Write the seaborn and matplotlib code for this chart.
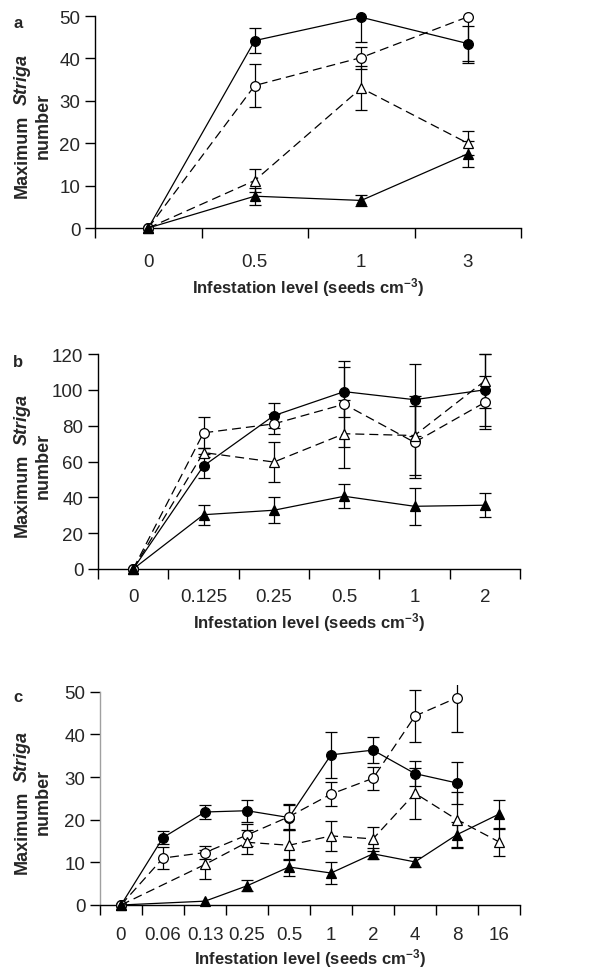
import numpy as np
import pandas as pd
import seaborn as sns
import matplotlib.pyplot as plt

sns.set_style("white")
plt.rcParams['font.family'] = ['Liberation Sans', 'DejaVu Sans']
plt.rcParams['mathtext.fontset'] = 'custom'
plt.rcParams['mathtext.rm'] = 'Liberation Sans'
plt.rcParams['mathtext.bf'] = 'Liberation Sans:bold'
plt.rcParams['mathtext.it'] = 'Liberation Sans:italic'

nan = np.nan

# ---- panel a ----
levels_a = ['0', '0.5', '1', '3']
a_filled_circle = [0, 44.2, 49.7, 43.5]
a_filled_circle_err = [0, 3.0, 5.8, 4.2]
a_open_circle = [0, 33.6, 40.2, 49.8]
a_open_circle_err = [0, 5.1, 2.6, 10.8]
a_open_triangle = [0, 11.2, 33.0, 20.0]
a_open_triangle_err = [0, 2.8, 5.2, 2.8]
a_filled_triangle = [0, 7.5, 6.5, 17.5]
a_filled_triangle_err = [0, 2.0, 1.3, 3.1]

# ---- panel b ----
levels_b = ['0', '0.125', '0.25', '0.5', '1', '2']
b_filled_circle = [0, 57.5, 85.6, 99.0, 94.5, 100.0]
b_filled_circle_err = [0, 6.5, 7.0, 14.0, 20.0, 20.0]
b_open_circle = [0, 76.0, 81.0, 92.0, 70.7, 93.0]
b_open_circle_err = [0, 8.7, 5.5, 24.0, 20.0, 15.0]
b_open_triangle = [0, 65.0, 59.7, 75.5, 74.5, 105.0]
b_open_triangle_err = [0, 2.5, 11.0, 19.0, 22.0, 15.0]
b_filled_triangle = [0, 30.3, 32.8, 40.6, 35.0, 35.6]
b_filled_triangle_err = [0, 5.6, 7.2, 6.7, 10.2, 6.7]

# ---- panel c ----
levels_c = ['0', '0.06', '0.13', '0.25', '0.5', '1', '2', '4', '8', '16']
c_filled_circle = [0, 15.8, 21.8, 22.1, 20.5, 35.2, 36.3, 30.8, 28.6, nan]
c_filled_circle_err = [0, 1.5, 1.7, 2.6, 3.0, 5.4, 3.1, 3.0, 5.0, nan]
c_open_circle = [0, 11.0, 12.3, 16.4, 20.7, 26.0, 29.7, 44.3, 48.6, nan]
c_open_circle_err = [0, 2.6, 1.5, 2.6, 3.0, 2.8, 2.7, 6.0, 8.0, nan]
c_open_triangle = [0, nan, 9.5, 14.7, 14.0, 16.2, 15.5, 26.2, 20.0, 14.8]
c_open_triangle_err = [0, nan, 3.3, 2.8, 3.5, 3.6, 2.9, 6.0, 6.6, 3.2]
c_filled_triangle = [0, nan, 0.9, 4.5, 8.9, 7.5, 12.0, 10.1, 16.5, 21.3]
c_filled_triangle_err = [0, nan, 0, 1.3, 2.0, 2.5, 1.3, 1.1, 3.0, 3.4]

# marker, face colour, line style, marker size (same order as the series)
STYLES = [('o', 'black', '-', 7.0),
          ('o', 'white', (0, (7.2, 4)), 7.0),
          ('^', 'white', (0, (7.2, 4)), 7.5),
          ('^', 'black', '-', 7.5)]

W, H = 592, 970
fig = plt.figure(figsize=(W / 100, H / 100), dpi=100)


def add_axes_px(left, right, y_zero, y_max_px, ymax, ytop):
    per = (y_zero - y_max_px) / ymax
    top = y_zero - ytop * per
    return fig.add_axes([left / W, 1 - y_zero / H, (right - left) / W, (y_zero - top) / H])


def draw_panel(ax, levels, values, errors, ymax, ystep, ytop, tick_pad, label_off, height_px):
    n = len(levels)
    x = np.arange(n)
    for vals, errs, (marker, face, ls, ms) in zip(values, errors, STYLES):
        df = pd.DataFrame({'x': x, 'y': vals, 'e': errs}).dropna()
        de = df[df.e > 0]
        ax.errorbar(de.x, de.y, yerr=de.e, fmt='none', ecolor='black',
                    elinewidth=0.9, capsize=4.5, capthick=0.9, zorder=2)
        sns.lineplot(data=df, x='x', y='y', ax=ax, color='black', linestyle=ls,
                     linewidth=0.9, marker=marker, markersize=ms,
                     markerfacecolor=face, markeredgecolor='black',
                     markeredgewidth=0.9, zorder=3, clip_on=False)
    ax.set_xlim(-0.5, n - 0.5)
    ax.set_ylim(0, ytop)
    ax.set_xticks(x)
    ax.set_xticklabels(levels)
    ax.set_xticks(np.arange(n + 1) - 0.5, minor=True)
    ax.set_yticks(np.arange(0, ymax + 1, ystep))
    ax.tick_params(axis='x', which='major', length=0, pad=tick_pad, labelsize=13.5)
    ax.tick_params(axis='x', which='minor', bottom=True, length=7, width=1,
                   direction='out', color='black')
    ax.tick_params(axis='y', left=True, length=7, width=1, direction='out',
                   pad=3.5, labelsize=13.5, color='black')
    for s in ['top', 'right']:
        ax.spines[s].set_visible(False)
    for s in ['left', 'bottom']:
        ax.spines[s].set_color('black')
        ax.spines[s].set_linewidth(1)
    ax.spines['left'].set_bounds(0, ymax)
    ax.set_ylabel('')
    ax.set_xlabel(r'Infestation level (seeds cm$^{\mathregular{-3}}$)', fontsize=12,
                  fontweight='bold', va='center')
    ax.xaxis.set_label_coords(0.5, -label_off / height_px)


renderer = fig.canvas.get_renderer()


def ylabel(cx1, cx2, cy):
    t1 = fig.text(cx1 / W, 0, 'Maximum', rotation=90, fontsize=13,
                  fontweight='bold', ha='center', va='bottom')
    t2 = fig.text(cx1 / W, 0, 'Striga', rotation=90, fontsize=13,
                  fontweight='bold', style='italic', ha='center', va='bottom')
    h1 = t1.get_window_extent(renderer).height
    h2 = t2.get_window_extent(renderer).height
    gap = 9
    start = cy + (h1 + gap + h2) / 2
    t1.set_y(1 - start / H)
    t2.set_y(1 - (start - h1 - gap) / H)
    fig.text(cx2 / W, 1 - cy / H, 'number', rotation=90, fontsize=13,
             fontweight='bold', ha='center', va='center')


panels = [
    (levels_a,
     [a_filled_circle, a_open_circle, a_open_triangle, a_filled_triangle],
     [a_filled_circle_err, a_open_circle_err, a_open_triangle_err, a_filled_triangle_err],
     (95, 521, 229, 17), 50, 10, 50.5, 18, 59, 'a', 28),
    (levels_b,
     [b_filled_circle, b_open_circle, b_open_triangle, b_filled_triangle],
     [b_filled_circle_err, b_open_circle_err, b_open_triangle_err, b_filled_triangle_err],
     (98, 520, 570, 355), 120, 20, 121.5, 13.5, 53, 'b', 367),
    (levels_c,
     [c_filled_circle, c_open_circle, c_open_triangle, c_filled_triangle],
     [c_filled_circle_err, c_open_circle_err, c_open_triangle_err, c_filled_triangle_err],
     (100, 520, 906, 692.7), 50, 10, 51.5, 15, 53, 'c', 702),
]

for levels, vals, errs, (l, r, y0, ym), ymax, step, ytop, pad, loff, letter, ly in panels:
    ax = add_axes_px(l, r, y0, ym, ymax, ytop)
    hpx = (y0 - ym) / ymax * ytop
    draw_panel(ax, levels, vals, errs, ymax, step, ytop, pad, loff, hpx)
    ylabel(22, 43, (y0 + ym) / 2 + 3)
    fig.text(13 / W, 1 - ly / H, letter, fontsize=12, fontweight='bold',
             ha='left', va='baseline')
    if letter == 'c':
        ax.spines['left'].set_color('#a0a0a0')

fig.savefig('out.png', dpi=100)
